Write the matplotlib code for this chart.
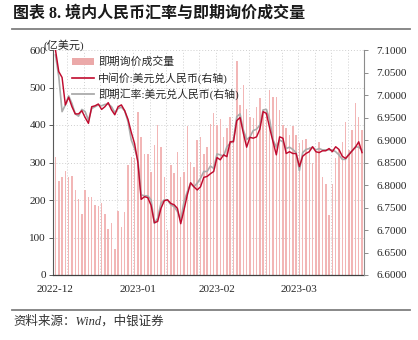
import matplotlib

matplotlib.use("Agg")

import matplotlib.pyplot as plt
import numpy as np
from matplotlib.lines import Line2D
from matplotlib.patches import Patch
from matplotlib.ticker import FormatStrFormatter

# Daily spot inquiry turnover (100m USD), left axis
volume = [
    316, 251, 262, 277, 262, 264, 227, 204, 162, 228,
    207, 207, 188, 184, 191, 164, 124, 138, 69, 171,
    129, 169, 293, 314, 311, 436, 369, 324, 324, 276,
    347, 400, 342, 262, 120, 293, 271, 329, 262, 276,
    397, 302, 289, 360, 369, 324, 342, 404, 431, 400,
    415, 369, 391, 422, 369, 572, 453, 507, 444, 422,
    420, 449, 471, 440, 440, 493, 476, 474, 440, 400,
    391, 373, 397, 373, 351, 360, 363, 342, 298, 329,
    356, 262, 244, 160, 244, 311, 333, 356, 409, 333,
    387, 458, 422, 387,
]

# USD/CNY central parity, right axis
central_parity = [
    7.100, 7.052, 7.039, 6.978, 6.995, 6.974, 6.958, 6.958, 6.965, 6.950,
    6.937, 6.974, 6.976, 6.980, 6.968, 6.974, 6.983, 6.967, 6.956, 6.974,
    6.978, 6.965, 6.946, 6.917, 6.892, 6.850, 6.768, 6.774, 6.772, 6.755,
    6.716, 6.719, 6.748, 6.765, 6.767, 6.759, 6.756, 6.748, 6.714, 6.745,
    6.778, 6.805, 6.796, 6.789, 6.796, 6.817, 6.819, 6.825, 6.830, 6.861,
    6.856, 6.867, 6.863, 6.896, 6.896, 6.943, 6.950, 6.915, 6.884, 6.906,
    6.904, 6.907, 6.924, 6.963, 6.959, 6.926, 6.896, 6.867, 6.907, 6.904,
    6.870, 6.874, 6.870, 6.870, 6.841, 6.864, 6.870, 6.874, 6.885, 6.874,
    6.872, 6.876, 6.876, 6.881, 6.874, 6.885, 6.879, 6.864, 6.859, 6.867,
    6.876, 6.884, 6.896, 6.872,
]

# USD/CNY spot rate, right axis
spot_rate = [
    7.089, 7.041, 6.963, 6.978, 6.998, 6.981, 6.958, 6.953, 6.968, 6.963,
    6.944, 6.970, 6.974, 6.978, 6.976, 6.979, 6.980, 6.974, 6.961, 6.970,
    6.973, 6.965, 6.941, 6.900, 6.881, 6.856, 6.778, 6.776, 6.776, 6.767,
    6.715, 6.726, 6.759, 6.767, 6.767, 6.756, 6.752, 6.741, 6.722, 6.763,
    6.785, 6.804, 6.796, 6.804, 6.815, 6.830, 6.830, 6.842, 6.837, 6.869,
    6.867, 6.864, 6.885, 6.893, 6.900, 6.952, 6.958, 6.922, 6.901, 6.907,
    6.921, 6.924, 6.933, 6.967, 6.968, 6.944, 6.900, 6.884, 6.900, 6.896,
    6.881, 6.884, 6.879, 6.872, 6.832, 6.872, 6.879, 6.881, 6.884, 6.878,
    6.881, 6.878, 6.878, 6.878, 6.878, 6.874, 6.867, 6.857, 6.857, 6.869,
    6.876, 6.885, 6.884, 6.878,
]

month_ticks = [0, 25, 49, 74]
month_labels = ["2022-12", "2023-01", "2023-02", "2023-03"]

RED = "#C00A2E"
GREY = "#ABABAB"
PINK = "#F2B6B6"
TEXT = "#262626"

W, H = 418, 340


def main() -> None:
    plt.rcParams["font.family"] = ["Liberation Serif", "Noto Sans CJK SC"]
    plt.rcParams["axes.unicode_minus"] = False

    fig = plt.figure(figsize=(W / 100, H / 100), dpi=100)
    ax = fig.add_axes([53 / W, 65 / H, 311 / W, 225 / H])

    x = np.arange(len(volume))
    ax.bar(x, volume, width=0.45, color=PINK, zorder=2)
    ax.set_ylim(0, 600)
    ax.set_yticks(range(0, 601, 100))
    ax.set_xlim(-0.75, len(volume) - 0.4)
    ax.set_xticks(month_ticks)
    ax.set_xticklabels(month_labels)
    ax.set_xticks(np.arange(3.6, len(volume), 5), minor=True)
    ax.grid(True, axis="y", which="major", linestyle=(0, (1, 2)), color="#CFCFCF", lw=0.7, zorder=0)
    ax.grid(True, axis="x", which="minor", linestyle=(0, (1, 2)), color="#CFCFCF", lw=0.7, zorder=0)
    ax.tick_params(axis="x", which="both", length=0, pad=7, labelsize=8, labelcolor=TEXT)
    ax.tick_params(axis="y", length=3, width=0.7, color="#595959", pad=2, labelsize=8, labelcolor=TEXT)
    ax.spines["top"].set_visible(False)
    ax.spines["right"].set_visible(False)
    ax.spines["left"].set_color("#595959")
    ax.spines["bottom"].set_color("#404040")
    ax.spines["left"].set_linewidth(0.8)
    ax.spines["bottom"].set_linewidth(0.9)

    ax2 = ax.twinx()
    ax2.plot(x, spot_rate, color=GREY, lw=1.2, zorder=3)
    ax2.plot(x, central_parity, color=RED, lw=1.05, zorder=4)
    ax2.set_ylim(6.6, 7.1)
    ax2.set_yticks(np.arange(6.6, 7.1001, 0.05))
    ax2.yaxis.set_major_formatter(FormatStrFormatter("%.4f"))
    ax2.tick_params(axis="y", length=3, width=0.7, color="#8C8C8C", pad=6, labelsize=8, labelcolor=TEXT)
    for side in ("top", "left", "bottom"):
        ax2.spines[side].set_visible(False)
    ax2.spines["right"].set_color("#8C8C8C")
    ax2.spines["right"].set_linewidth(0.8)

    handles = [
        Patch(facecolor="#EBA9A9", edgecolor="none"),
        Line2D([], [], color=RED, lw=1.2),
        Line2D([], [], color=GREY, lw=1.3),
    ]
    labels = ["即期询价成交量", "中间价:美元兑人民币(右轴)", "即期汇率:美元兑人民币(右轴)"]
    ax2.legend(
        handles, labels,
        loc="upper left", bbox_to_anchor=(0.061, 0.97),
        frameon=False, fontsize=7.8, handlelength=2.0, handletextpad=0.4,
        labelspacing=0.42, borderpad=0, borderaxespad=0,
        labelcolor=TEXT,
    )

    fig.text(43 / W, 1 - 45 / H, "(亿美元)", fontsize=8, color=TEXT, va="center", ha="left")

    fig.text(13 / W, 1 - 14 / H, "图表 8. 境内人民币汇率与即期询价成交量",
             fontsize=11.5, fontweight="bold", color="#1A1A1A", va="center", ha="left")
    fig.add_artist(Line2D([12 / W, 410 / W], [1 - 28.5 / H] * 2, color="#7F7F7F", lw=1.3))
    fig.add_artist(Line2D([12 / W, 410 / W], [1 - 309.5 / H] * 2, color="#7F7F7F", lw=1.3))
    fig.text(13 / W, 1 - 321 / H, "资料来源：Wind，中银证券",
             fontsize=9, style="italic", color="#333333", va="center", ha="left")

    fig.savefig("out.png", dpi=100)
    plt.close(fig)


if __name__ == "__main__":
    main()
